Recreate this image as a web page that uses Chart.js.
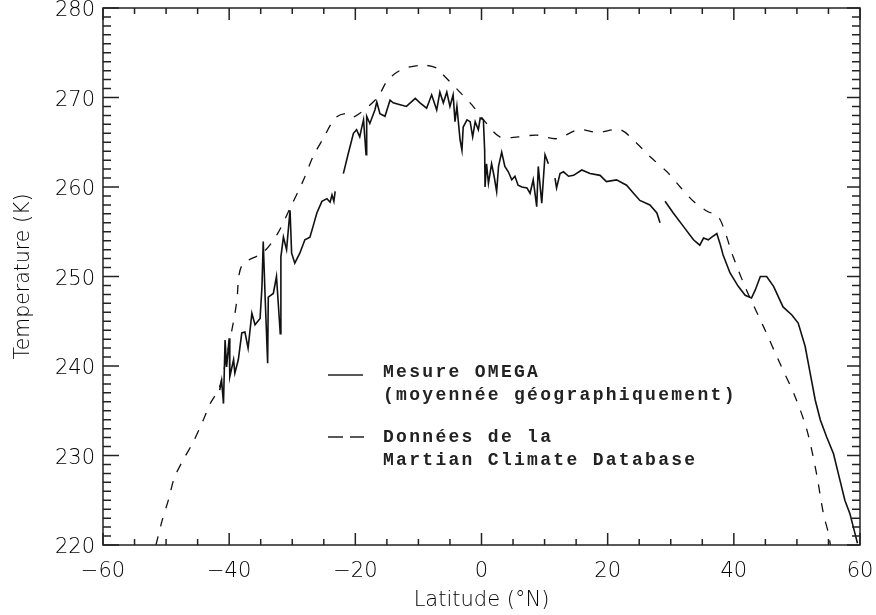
<!DOCTYPE html>
<html>
<head>
<meta charset="utf-8">
<script src="https://cdn.jsdelivr.net/npm/chart.js@4"></script>
<style>
    html, body { margin: 0; padding: 0; background: #fff; }
    #wrap { width: 876px; height: 615px; position: relative; }
</style>
</head>
<body>
<div id="wrap"><canvas id="tempChart"></canvas></div>
<script>
// latitude (°N) and temperature (K)
// null temperature = gap in the OMEGA coverage
const omegaLat = [
    -41.5, -41.2, -40.9, -40.65, -40.4, -40.0, -39.9, -39.3, -39.1, -38.55,
    -38.0, -37.5, -37.0, -36.4, -35.9, -35.1, -34.8, -34.6, -34.3, -33.9,
    -33.8, -33.0, -32.5, -31.9, -31.8, -31.4, -30.9, -30.35, -30.1, -29.6,
    -28.8, -28.0, -27.2, -26.7, -26.1, -25.3, -24.5, -24.0, -23.7, -23.4, -23.2,
    -22.6,
    -21.9, -21.1, -20.3, -19.8, -19.3, -19.0, -18.7, -18.3, -18.2, -17.7,
    -16.9, -16.6, -16.1, -15.3, -14.5, -14.0, -12.9, -11.9, -10.5, -9.75,
    -8.7, -7.9, -7.1, -6.6, -6.05, -5.5, -5.0, -4.5, -4.2, -3.9,
    -3.4, -3.1, -2.9, -2.3, -1.8, -1.4, -1.0, -0.5, -0.2, 0.3,
    0.5, 0.56, 0.8, 1.1, 1.6, 2.0, 2.4, 2.7, 3.2, 3.7,
    4.25, 4.8, 5.3, 5.8, 6.4, 7.2, 7.7, 8.2, 8.75, 9.0, 9.55, 10.07, 10.6,
    11.1,
    11.65, 11.9, 12.45, 13.0, 13.8, 14.6, 15.9, 17.2, 18.8, 19.8,
    21.4, 23.0, 24.1, 25.1, 26.7, 27.8, 28.3,
    28.7,
    29.1, 30.4, 32.0, 33.6, 34.6, 35.2, 35.95, 36.5, 37.3, 37.8,
    38.3, 39.4, 40.7, 41.8, 42.8, 43.4, 44.2, 45.2, 46.3, 47.8,
    49.2, 50.2, 51.3, 52.1, 52.9, 53.7, 54.7, 55.8, 56.8, 57.6,
    58.4, 59.2, 59.6
];
const omegaTemp = [
    237.3, 238.4, 235.8, 242.9, 239.9, 243.1, 238.8, 240.7, 239.2, 240.7,
    243.7, 243.8, 242.0, 245.9, 244.6, 245.3, 248.9, 253.9, 247.7, 240.3,
    247.7, 248.1, 250.0, 243.6, 252.2, 254.4, 253.0, 257.4, 252.6, 251.5,
    252.6, 254.1, 254.4, 255.6, 257.1, 258.4, 258.7, 258.3, 259.1, 258.4, 259.5,
    null,
    261.5, 263.8, 266.0, 266.4, 265.6, 266.6, 267.5, 263.6, 267.9, 267.1,
    268.6, 269.5, 268.2, 267.9, 269.7, 269.4, 269.2, 269.0, 269.9, 269.4,
    268.8, 270.3, 268.6, 270.6, 269.4, 270.6, 269.0, 270.3, 267.3, 269.0,
    265.3, 264.1, 266.7, 267.5, 267.3, 265.6, 267.3, 266.4, 267.7, 267.5,
    264.1, 260.0, 262.6, 260.4, 262.6, 261.2, 259.5, 262.3, 263.9, 262.3,
    261.7, 260.8, 261.2, 260.2, 260.0, 259.9, 259.3, 260.8, 257.8, 262.3, 258.2, 263.6, 262.6,
    null,
    261.0, 259.9, 261.5, 261.7, 261.2, 261.3, 261.9, 261.5, 261.3, 260.6,
    260.8, 260.2, 259.3, 258.5, 258.0, 257.1, 256.0,
    null,
    258.4, 257.1, 255.6, 254.1, 253.5, 254.3, 254.1, 254.4, 254.8, 253.7,
    252.4, 250.4, 248.9, 247.9, 247.6, 248.5, 250.0, 250.0, 248.9, 246.6,
    245.7, 244.8, 242.2, 239.2, 236.2, 234.0, 232.1, 230.2, 227.3, 225.0,
    223.5, 221.3, 220.2
];
const mcdLat = [
    -51.6, -50.6, -49.6, -48.7, -47.3, -45.7, -44.2, -43.0, -41.5, -39.3,
    -38.8, -38.0, -34.6, -32.4, -30.3, -28.2, -26.7, -25.1, -23.2, -21.5,
    -20.3, -16.6, -14.8, -12.4, -9.2, -7.1, -6.3, -3.7, -1.55, 0.56,
    2.9, 5.8, 8.75, 11.9, 15.4, 18.5, 22.0, 24.6, 26.7, 29.4,
    31.5, 33.6, 36.0, 37.3, 38.3, 39.9, 42.0, 44.7, 47.3, 49.7,
    51.6, 53.1, 54.2, 55.0, 55.3
];
const mcdTemp = [
    220.0, 222.8, 225.1, 227.5, 229.5, 231.5, 233.8, 235.8, 237.7, 245.0,
    247.2, 251.2, 252.7, 254.7, 257.7, 260.8, 263.4, 265.4, 267.7, 268.2,
    267.8, 269.9, 272.0, 273.2, 273.6, 273.3, 272.7, 270.8, 269.2, 267.3,
    265.6, 265.6, 265.8, 265.4, 266.4, 266.1, 266.4, 264.9, 263.4, 261.7,
    260.0, 258.4, 257.2, 256.9, 255.6, 252.2, 248.5, 244.4, 240.3, 236.6,
    232.8, 228.0, 223.5, 221.3, 220.0
];
const xRange = [-60, 60];
const yRange = [220, 280];
const xMajorStep = 20, xMinorStep = 5;
const yMajorStep = 10, yMinorStep = 1;
const legendLines = [
    ['Mesure OMEGA', '(moyennée géographiquement)'],
    ['Données de la', 'Martian Climate Database']
];

const ink = '#222';
Chart.defaults.font.family = '"DejaVu Sans", sans-serif';

// IDL-style box: frame with inward ticks on all four sides, plus the in-plot legend
const frameTicks = {
    id: 'frameTicks',
    afterDatasetsDraw(chart) {
        const { ctx, chartArea: a, scales: { x, y } } = chart;
        ctx.save();
        ctx.strokeStyle = ink;
        ctx.lineWidth = 1.5;
        ctx.setLineDash([]);
        ctx.strokeRect(a.left, a.top, a.right - a.left, a.bottom - a.top);

        ctx.beginPath();
        for (let v = x.min; v <= x.max; v += xMinorStep) {
            const px = x.getPixelForValue(v);
            const len = v % xMajorStep === 0 ? 12 : 6;
            ctx.moveTo(px, a.bottom); ctx.lineTo(px, a.bottom - len);
            ctx.moveTo(px, a.top); ctx.lineTo(px, a.top + len);
        }
        for (let v = y.min; v <= y.max; v += yMinorStep) {
            const py = y.getPixelForValue(v);
            const major = v % yMajorStep === 0;
            ctx.moveTo(a.left, py); ctx.lineTo(a.left + (major ? 16 : 8), py);
            ctx.moveTo(a.right, py); ctx.lineTo(a.right - (major ? 13 : 8), py);
        }
        ctx.stroke();

        // legend
        const lx = a.left + 225, tx = a.left + 280;
        ctx.lineWidth = 1.5;
        ctx.beginPath();
        ctx.moveTo(lx, 375); ctx.lineTo(lx + 35, 375);
        ctx.stroke();
        ctx.setLineDash([15, 7]);
        ctx.beginPath();
        ctx.moveTo(lx, 437); ctx.lineTo(lx + 36, 437);
        ctx.stroke();

        ctx.fillStyle = ink;
        ctx.font = 'bold 18px "Liberation Mono", monospace';
        ctx.letterSpacing = '2.3px';
        ctx.textBaseline = 'alphabetic';
        ctx.fillText(legendLines[0][0], tx, 377);
        ctx.fillText(legendLines[0][1], tx, 400);
        ctx.fillText(legendLines[1][0], tx, 442);
        ctx.fillText(legendLines[1][1], tx, 465);
        ctx.restore();
    }
};

const minus = v => (v < 0 ? '\u2212' + Math.abs(v) : String(v));

const ctxTemp = document.getElementById('tempChart').getContext('2d');
new Chart(ctxTemp, {
    type: 'line',
    data: {
        datasets: [{
            label: 'Mesure OMEGA',
            data: omegaLat.map((v, i) => ({ x: v, y: omegaTemp[i] })),
            borderColor: '#111',
            borderWidth: 1.6,
            pointRadius: 0,
            spanGaps: false,
            tension: 0
        },
        {
            label: 'Données de la Martian Climate Database',
            data: mcdLat.map((v, i) => ({ x: v, y: mcdTemp[i] })),
            borderColor: '#111',
            borderWidth: 1.3,
            borderDash: [9, 10],
            pointRadius: 0,
            tension: 0.3
        }]
    },
    options: {
        responsive: true,
        maintainAspectRatio: false,
        animation: false,
        layout: { padding: { left: 0, right: 16, top: 8, bottom: 0 } },
        plugins: {
            legend: { display: false },
            tooltip: { enabled: false }
        },
        scales: {
            x: {
                type: 'linear',
                min: xRange[0],
                max: xRange[1],
                afterFit(s) { s.height = 70; s.paddingLeft = 0; s.paddingRight = 0; },
                grid: { display: false, drawTicks: false },
                border: { display: false },
                ticks: {
                    stepSize: xMajorStep,
                    padding: 14,
                    maxRotation: 0,
                    color: '#000',
                    font: { size: 21, weight: '200' },
                    callback: v => minus(v)
                },
                title: {
                    display: true,
                    text: 'Latitude (°N)',
                    color: '#000',
                    font: { size: 21, weight: '200', lineHeight: 1.0 }
                }
            },
            y: {
                min: yRange[0],
                max: yRange[1],
                afterFit(s) { s.width = 103; s.paddingTop = 0; s.paddingBottom = 0; },
                grid: { display: false, drawTicks: false },
                border: { display: false },
                ticks: {
                    stepSize: yMajorStep,
                    padding: 8,
                    labelOffset: 3,
                    color: '#000',
                    font: { size: 21, weight: '200' }
                },
                title: {
                    display: true,
                    text: 'Temperature (K)',
                    color: '#000',
                    font: { size: 20.5, weight: '200', lineHeight: 1.95 }
                }
            }
        }
    },
    plugins: [frameTicks]
});
</script>
</body>
</html>
